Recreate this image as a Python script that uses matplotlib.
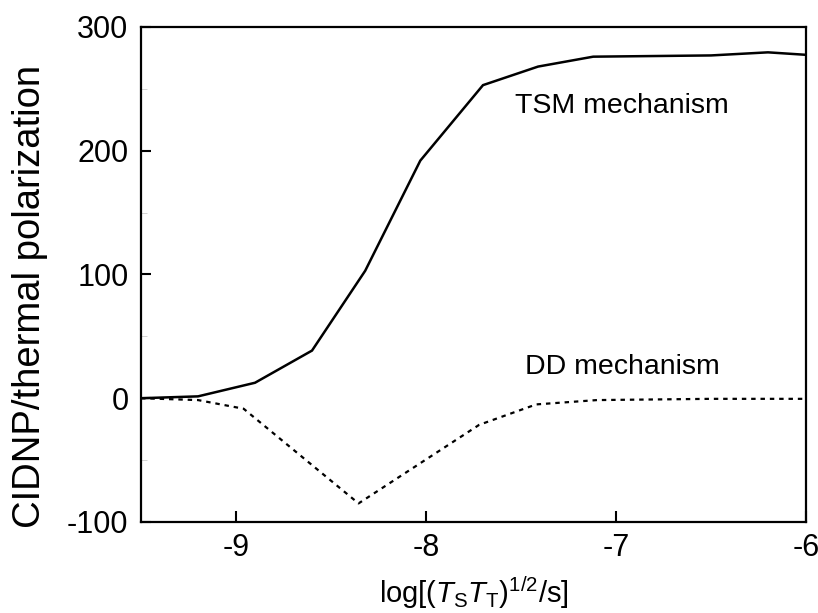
import matplotlib
matplotlib.use("Agg")
import matplotlib.pyplot as plt
from matplotlib.ticker import MultipleLocator

plt.rcParams['font.family'] = ['Liberation Sans', 'DejaVu Sans']
plt.rcParams['mathtext.fontset'] = 'custom'
plt.rcParams['mathtext.rm'] = 'Liberation Sans'
plt.rcParams['mathtext.it'] = 'Liberation Sans:italic'

# Data
tsm_x = [-9.5, -9.2, -8.9, -8.6, -8.32, -8.03, -7.70, -7.41, -7.12, -6.5, -6.2, -6.0]
tsm_y = [0, 1.5, 12.5, 38.5, 103, 192, 253, 268, 276, 277, 279.5, 277.5]
dd_x = [-9.5, -9.2, -8.96, -8.355, -7.72, -7.42, -7.1, -6.5, -6.0]
dd_y = [0, -1.5, -8.5, -85, -21.5, -5, -1.5, -0.5, -0.5]
xticks = [-9, -8, -7, -6]
yticks = [-100, 0, 100, 200, 300]

fig = plt.figure(figsize=(8.18, 6.13), dpi=100)
ax = fig.add_axes([0.1724, 0.1485, 0.8129, 0.8075])

ax.plot(tsm_x, tsm_y, color='black', lw=1.8, solid_joinstyle='miter')
ax.plot(dd_x, dd_y, color='black', lw=1.6, linestyle=(0, (2, 2.2)))

ax.set_xlim(-9.5, -6)
ax.set_ylim(-100, 300)
ax.set_xticks(xticks)
ax.set_yticks(yticks)
ax.set_xticklabels([str(t) for t in xticks])
ax.set_yticklabels([str(t) for t in yticks])
ax.yaxis.set_minor_locator(MultipleLocator(50))

ax.tick_params(axis='x', which='major', direction='in', length=8, width=1.5,
               labelsize=22, pad=8, top=False)
ax.tick_params(axis='y', which='major', direction='in', length=7, width=1.5,
               labelsize=22, pad=9, right=False)
ax.tick_params(axis='y', which='minor', direction='in', length=4, width=0.6,
               color='#cccccc', right=False)

for s in ax.spines.values():
    s.set_linewidth(1.6)

ax.set_ylabel('CIDNP/thermal polarization', fontsize=27.5)
ax.yaxis.set_label_coords(-0.14, 0.455)
ax.set_xlabel(r'log[($T_{\rm S}T_{\rm T}$)$^{1/2}$/s]', fontsize=21, labelpad=8)

ax.text(-7.53, 236, 'TSM mechanism', fontsize=20.5, va='center', ha='left')
ax.text(-7.48, 25, 'DD mechanism', fontsize=20.5, va='center', ha='left')

fig.savefig('out.png', dpi=100)
